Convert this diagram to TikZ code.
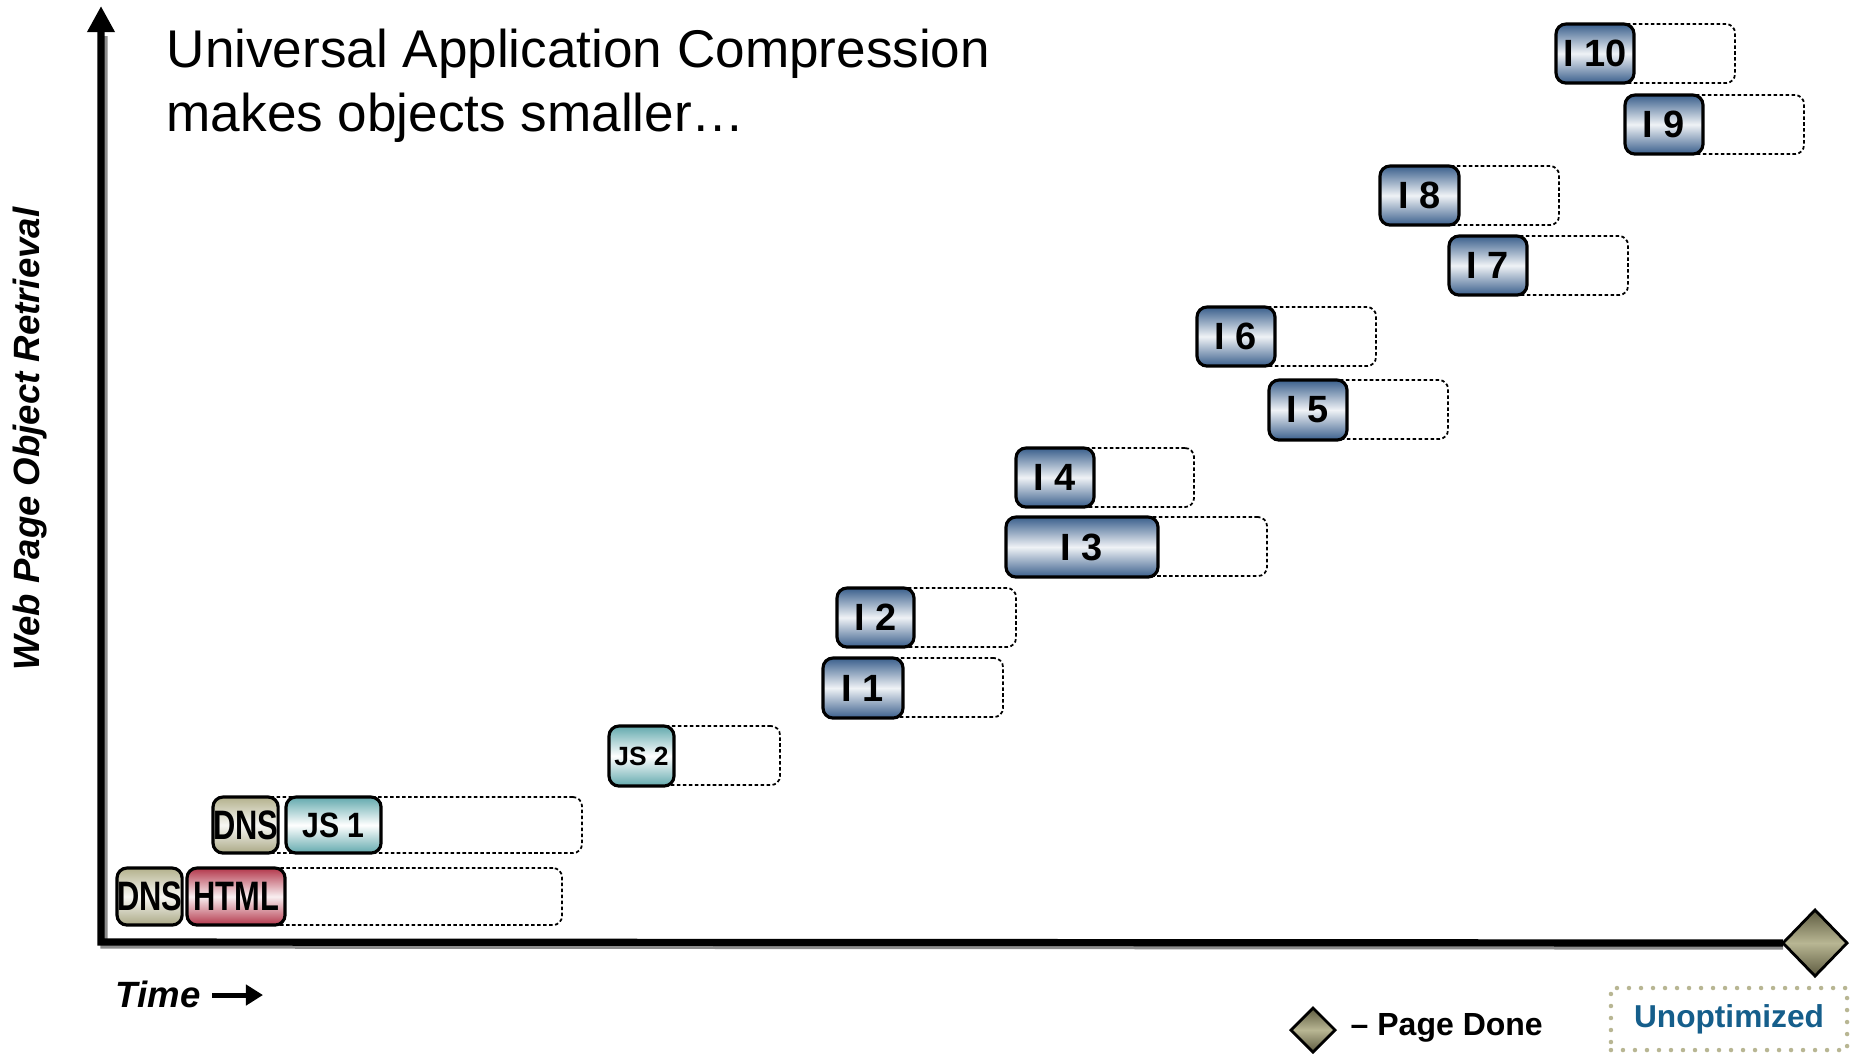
\documentclass[tikz,border=0pt]{standalone}
\usepackage{fontspec}
\setmainfont{Liberation Sans}
\usepackage{graphicx}
\usetikzlibrary{arrows.meta,shapes.geometric,backgrounds}

\definecolor{imgblue}{HTML}{3A5F8C}
\definecolor{jsteal}{HTML}{62A9AD}
\definecolor{dnskhaki}{HTML}{B3B18C}
\definecolor{htmlred}{HTML}{B3374B}
\definecolor{donekhaki}{HTML}{B8B693}
\definecolor{donedark}{HTML}{5E5B40}
\definecolor{unoptblue}{HTML}{155E8B}
\definecolor{dotkhaki}{HTML}{B8B693}

% one dotted trail plus one shaded object box on top of it
% #1 name, #2 box style, #3 left, #4 top, #5 box width, #6 trail right end, #7 label
\newcommand\objbar[7]{%
  \node[trail, anchor=north west, minimum width={(#6-#3)*0.01cm}] (#1trail) at (#3,#4) {};
  \node[#2, anchor=north west, minimum width={(#5)*0.01cm}] (#1) at (#3,#4) {#7};}

\begin{document}
\begin{tikzpicture}[x=0.01cm, y=-0.01cm,
  trail/.style={draw, line width=0.5pt, dash pattern=on 1pt off 0.7pt,
    rounded corners=0.09cm, minimum height=0.59cm, inner sep=0pt, outer sep=0pt},
  objbox/.style={draw, line width=0.9pt, rounded corners=0.1cm,
    minimum height=0.59cm, inner sep=0pt, outer sep=0pt,
    font=\fontsize{10.8}{12}\selectfont\bfseries},
  imgbox/.style={objbox, top color=imgblue, bottom color=imgblue, middle color=white!92!imgblue},
  jsbox/.style={objbox, top color=jsteal, bottom color=jsteal, middle color=white},
  dnsbox/.style={objbox, top color=dnskhaki, bottom color=dnskhaki!95!black, middle color=white!90!dnskhaki,
    font=\fontsize{11.7}{14}\selectfont\bfseries},
  htmlbox/.style={objbox, top color=htmlred, bottom color=htmlred, middle color=white!92!htmlred,
    font=\fontsize{11.7}{14}\selectfont\bfseries},
  donemark/.style={diamond, draw, line width=0.8pt, inner sep=0pt, outer sep=0pt,
    top color=donedark, bottom color=donedark, middle color=donekhaki},
  axisline/.style={line width=0.072cm, line join=miter},
  axisshadow/.style={line width=0.072cm, line join=miter, draw=black!45},
  axislabel/.style={font=\fontsize{10.4}{12}\selectfont\bfseries\itshape, inner sep=0pt},
  legendtext/.style={font=\fontsize{9.1}{11}\selectfont\bfseries, inner sep=0pt},
  titletext/.style={font=\fontsize{15.1}{18}\selectfont, inner sep=0pt, anchor=base west}
]
\useasboundingbox (0,0) rectangle (1858,1053);

% title
\node[titletext] (title1) at (166,67) {Universal Application Compression};
\node[titletext] (title2) at (166,131) {makes objects smaller…};

% axes, drawn behind the page-done marker
\coordinate (origin) at (101,942);
\coordinate (ytip) at (101,6);
\node[donemark, minimum width=0.64cm, minimum height=0.66cm] (done) at (1815,943) {};
\begin{scope}[on background layer]
\draw[axisshadow] ([shift={(3,30)}]ytip) -- ([shift={(3,3)}]origin) -- ([shift={(0,3)}]done.west);
\draw[axisline, {Triangle[length=0.26cm, width=0.26cm]}-] (ytip) -- (origin) -- (done.west);
\end{scope}

\node[axislabel, rotate=90] (ylabel) at (30,439) {Web Page Object Retrieval};
\node[axislabel, anchor=base west] (time) at (115,1007) {Time};
\coordinate (tstart) at (212,995);
\coordinate (tend) at (263,995);
\draw[line width=0.05cm, -{Triangle[length=0.17cm, width=0.2cm]}] (tstart) -- (tend);

% object retrievals, bottom row first
\node[trail, anchor=north west, minimum width={(562-187)*0.01cm}, minimum height=0.57cm] (htmltrail) at (187,868) {};
\node[dnsbox, anchor=north west, minimum width=0.64cm, minimum height=0.57cm] (dns1) at (117,868) {\scalebox{0.75}[1]{DNS}};
\node[htmlbox, anchor=north west, minimum width=0.98cm, minimum height=0.57cm] (html) at (187,868) {\scalebox{0.75}[1]{HTML}};

\node[trail, anchor=north west, minimum width={(582-213)*0.01cm}, minimum height=0.56cm] (jsonetrail) at (213,797) {};
\node[dnsbox, anchor=north west, minimum width=0.65cm, minimum height=0.56cm] (dns2) at (213,797) {\scalebox{0.75}[1]{DNS}};
\node[jsbox, anchor=north west, minimum width=0.95cm, minimum height=0.56cm, font=\fontsize{10}{12}\selectfont\bfseries] (jsone) at (286,797) {\scalebox{0.86}[1]{JS 1}};

\objbar{jstwo}{jsbox, font=\fontsize{7.5}{9}\selectfont\bfseries, minimum height=0.6cm}{609}{726}{65}{780}{JS 2}
\objbar{ione}{imgbox, minimum height=0.6cm}{823}{658}{80}{1003}{I 1}
\objbar{itwo}{imgbox}{837}{588}{77}{1016}{I 2}
\objbar{ithree}{imgbox, minimum height=0.6cm}{1006}{517}{152}{1267}{I 3}
\objbar{ifour}{imgbox}{1016}{448}{78}{1194}{I 4}
\objbar{ifive}{imgbox, minimum height=0.6cm}{1269}{380}{78}{1448}{I 5}
\objbar{isix}{imgbox}{1197}{307}{78}{1376}{I 6}
\objbar{iseven}{imgbox}{1449}{236}{78}{1628}{I 7}
\objbar{ieight}{imgbox}{1380}{166}{79}{1559}{I 8}
\objbar{inine}{imgbox}{1625}{95}{78}{1804}{I 9}
\objbar{iten}{imgbox}{1556}{24}{78}{1735}{I 10}

% legend
\node[donemark, minimum width=0.44cm, minimum height=0.44cm] (legendmark) at (1313,1030) {};
\node[legendtext, anchor=base west] (legendtxt) at (1350,1035) {– Page Done};
\node[draw=dotkhaki, line width=0.045cm, dash pattern=on 0pt off 0.12cm, line cap=round,
  minimum width=2.36cm, minimum height=0.62cm, inner sep=0pt,
  font=\fontsize{9}{11}\selectfont\bfseries, text=unoptblue] (unopt) at (1729,1019) {Unoptimized};
\end{tikzpicture}
\end{document}
